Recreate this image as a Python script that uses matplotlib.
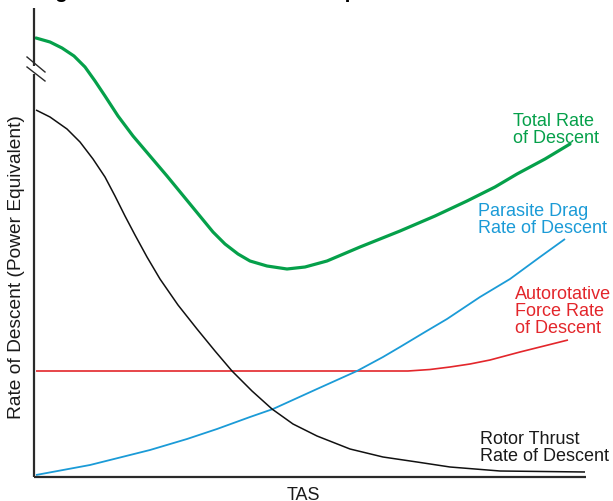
import matplotlib
matplotlib.use("Agg")
import matplotlib.pyplot as plt

plt.rcParams['font.family'] = ['Liberation Sans', 'DejaVu Sans']

# ---- data (arbitrary units: TAS 0-552, rate of descent 0-469) ----
total_x = [2, 16, 28, 40, 51, 61, 71, 84, 99, 116, 133, 156, 179, 191, 204, 216, 233, 253,
           271, 293, 326, 366, 401, 433, 461, 483, 511, 536]
total_y = [439, 435, 429, 421, 410, 396, 381, 361, 341, 321, 301, 273, 245, 233, 223, 216, 211, 208,
           210, 216, 230, 246, 261, 276, 290, 303, 318, 333]

rotor_x = [2, 16, 33, 46, 59, 71, 81, 91, 101, 113, 126, 144, 163, 181, 198, 218, 238, 259,
           283, 316, 349, 383, 416, 466, 551]
rotor_y = [367, 360, 348, 335, 318, 300, 281, 261, 242, 220, 198, 172, 148, 126, 106, 86, 68, 53,
           41, 28, 20, 15, 10, 6, 5]

parasite_x = [2, 56, 116, 153, 183, 216, 239, 283, 323, 349, 366, 391, 413, 446, 476, 506, 531]
parasite_y = [2, 12, 27, 38, 48, 60, 68, 88, 106, 120, 130, 145, 158, 180, 198, 220, 238]

autorot_x = [2, 374, 396, 416, 436, 456, 486, 506, 534]
autorot_y = [106, 106, 107.5, 110, 113, 117, 125, 130, 137]

title_text = "Figure 11-3. Effect of Forward Speed on Rate of Descent"
x_label = "TAS"
y_label = "Rate of Descent (Power Equivalent)"
lbl_total = "Total Rate\nof Descent"
lbl_parasite = "Parasite Drag\nRate of Descent"
lbl_autorot = "Autorotative\nForce Rate\nof Descent"
lbl_rotor = "Rotor Thrust\nRate of Descent"

GREEN = '#05a04a'
BLUE = '#1b9bd7'
RED = '#e3262b'
BLACK = '#111111'

W, H = 613, 502
fig = plt.figure(figsize=(W / 100, H / 100), dpi=100)
ax = fig.add_axes([34 / W, (H - 478) / H, (586 - 34) / W, (478 - 9) / H])
ax.set_xlim(0, 552)
ax.set_ylim(0, 469)
for s in ax.spines.values():
    s.set_visible(False)
ax.set_xticks([])
ax.set_yticks([])

# curves
ax.plot(autorot_x, autorot_y, color=RED, lw=1.2, solid_capstyle='butt')
ax.plot(parasite_x, parasite_y, color=BLUE, lw=1.3, solid_capstyle='butt')
ax.plot(rotor_x, rotor_y, color=BLACK, lw=1.1, solid_capstyle='butt')
ax.plot(total_x, total_y, color=GREEN, lw=2.3, solid_capstyle='round', solid_joinstyle='round')

# axes lines with break
axc = '#2a2a2a'
ax.plot([0, 552], [0, 0], color=axc, lw=1.6, clip_on=False, solid_capstyle='butt')
ax.plot([0, 0], [0, 403], color=axc, lw=1.6, clip_on=False, solid_capstyle='butt')
ax.plot([0, 0], [411, 469], color=axc, lw=1.6, clip_on=False, solid_capstyle='butt')
ax.plot([-7, 11], [420, 405], color=axc, lw=1.0, clip_on=False)
ax.plot([-7, 11], [410, 396], color=axc, lw=1.0, clip_on=False)

# curve labels (figure pixel positions)
fs = 13
def ftext(px, py, s, color, **kw):
    fig.text(px / W, 1 - py / H, s, color=color, fontsize=fs, va='baseline',
             ha='left', linespacing=1.0, **kw)

ftext(513, 143, lbl_total, GREEN)
ftext(478, 233, lbl_parasite, BLUE)
ftext(515, 333, lbl_autorot, RED)
ftext(480, 461, lbl_rotor, '#1a1a1a')

fig.text(303 / W, 1 - 500 / H, x_label, fontsize=fs, ha='center', va='baseline', color='#1a1a1a')
fig.text(17 / W, 1 - 267 / H, y_label, fontsize=13.8, rotation=90, ha='center', va='center', color='#1a1a1a')

# clipped title at top
fig.text(37 / W, 1 + 2.5 / H, title_text, fontsize=14.8, fontweight='bold', ha='left', va='baseline', color='black')

fig.savefig('out.png', dpi=100)
